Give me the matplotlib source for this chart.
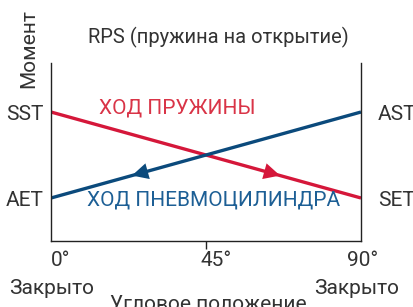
import matplotlib
matplotlib.use("Agg")
import matplotlib.pyplot as plt
from matplotlib.transforms import offset_copy

# Data
angle = [0, 90]
spring_torque = [1, 0]      # SST -> SET
actuator_torque = [0, 1]    # AET -> AST
x_ticks = [0, 45, 90]
x_tick_labels = ["0°", "45°", "90°"]
left_labels = ["AET", "SST"]
right_labels = ["SET", "AST"]

RED = "#d5173a"
BLUE = "#0b4a7c"
RED_TXT = "#d93447"
BLUE_TXT = "#1d5f95"
GRAY = "#333333"

plt.rcParams['font.family'] = ['Roboto', 'DejaVu Sans']
fs = 15

fig = plt.figure(figsize=(4.13, 3.07), dpi=100)
ax = fig.add_axes([51/413, 1-241/307, 310/413, 178/307])
ax.set_xlim(0, 90)
ax.set_ylim(-0.5, 1.57)

ax.plot(angle, spring_torque, color=RED, lw=2.4, solid_capstyle='butt')
ax.plot(angle, actuator_torque, color=BLUE, lw=2.4, solid_capstyle='butt')

def on_line(xs, ys, x):
    return ys[0] + (ys[1]-ys[0])*(x-xs[0])/(xs[1]-xs[0])

# arrows
for xs, ys, tip, tail, c in [(angle, actuator_torque, 23.5, 27.5, BLUE),
                             (angle, spring_torque, 66.5, 62.5, RED)]:
    ax.annotate('', xy=(tip, on_line(xs, ys, tip)), xytext=(tail, on_line(xs, ys, tail)),
                arrowprops=dict(arrowstyle='-|>,head_length=0.9,head_width=0.45',
                                color=c, lw=0, mutation_scale=13, shrinkA=0, shrinkB=0))

ax.spines['top'].set_visible(False)
for s in ['left', 'right', 'bottom']:
    ax.spines[s].set_color('#222222')
    ax.spines[s].set_linewidth(1.0)

ax.set_yticks([0, 1])
ax.set_yticklabels(left_labels, fontsize=fs, color=GRAY)
ax.tick_params(axis='y', length=0, pad=5.5)

ax2 = ax.twinx()
ax2.set_ylim(ax.get_ylim())
ax2.set_yticks([0, 1])
ax2.set_yticklabels(right_labels, fontsize=fs, color=GRAY)
ax2.tick_params(axis='y', length=0, pad=12)
for s in ax2.spines.values():
    s.set_visible(False)

ax.set_xticks([45])
ax.set_xticklabels([])
ax.tick_params(axis='x', length=6, width=1, color='#222222')

offsets = [(0, 0, 'left'), (10, 0, 'center'), (2, 0, 'center')]
for xv, lab, (dx, dy, ha) in zip(x_ticks, x_tick_labels, offsets):
    tr = offset_copy(ax.get_xaxis_transform(), fig=fig, x=dx, y=dy, units='dots')
    ax.text(xv, -19/178, lab, transform=tr, ha=ha, va='center', fontsize=fs, color=GRAY)

fig.text(52/413, 1-288/307, "Закрыто", ha='center', va='center', fontsize=fs, color=GRAY)
fig.text(357/413, 1-288/307, "Закрыто", ha='center', va='center', fontsize=fs, color=GRAY)
fig.text(208/413, 1-305/307, "Угловое положение", ha='center', va='center', fontsize=fs, color=GRAY)
fig.text(29/413, 1-49/307, "Момент", ha='center', va='center', rotation=90, fontsize=fs, color=GRAY)
fig.text(218/413, 1-37/307, "RPS (пружина на открытие)", ha='center', va='center', fontsize=14.5, color=GRAY)

fig.text(177/413, 1-108/307, "ХОД ПРУЖИНЫ", ha='center', va='center', fontsize=fs, color=RED_TXT)
fig.text(214/413, 1-200/307, "ХОД ПНЕВМОЦИЛИНДРА", ha='center', va='center', fontsize=fs, color=BLUE_TXT)

fig.savefig("out.png", dpi=100)
